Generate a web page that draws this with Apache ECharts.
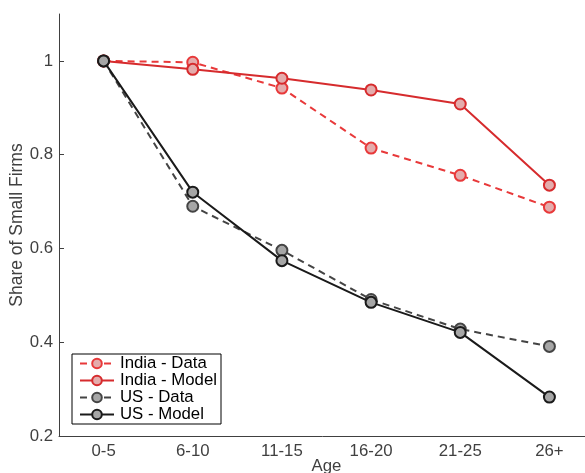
<!DOCTYPE html>
<html>
<head>
<meta charset="utf-8">
<script src="https://cdn.jsdelivr.net/npm/echarts@6/dist/echarts.min.js"></script>
<style>html,body{margin:0;padding:0;background:#fff}#c{width:585px;height:473px}</style>
</head>
<body>
<div id="c"></div>
<script>
var categories = ['0-5', '6-10', '11-15', '16-20', '21-25', '26+'];
var indiaData  = [1.0, 0.997, 0.942, 0.814, 0.756, 0.688];
var indiaModel = [1.0, 0.982, 0.963, 0.938, 0.908, 0.735];
var usData     = [1.0, 0.690, 0.596, 0.491, 0.428, 0.391];
var usModel    = [1.0, 0.720, 0.574, 0.485, 0.421, 0.283];
var yTicks = [0.2, 0.4, 0.6, 0.8, 1.0];

var FONT = 'Liberation Sans';
var chart = echarts.init(document.getElementById('c'), null, {renderer: 'canvas'});

function mk(name, data, color, fill, dashed, z) {
  return {
    name: name, type: 'line', data: data, z: z,
    symbol: 'circle', symbolSize: 11,
    itemStyle: {color: fill, borderColor: color, borderWidth: 2, opacity: 1},
    lineStyle: {color: color, width: 2, type: dashed ? [7, 5] : 'solid'},
    emphasis: {disabled: true},
    animation: false
  };
}

chart.setOption({
  animation: false,
  textStyle: {fontFamily: FONT},
  grid: {left: 59, top: 14, bottom: 37, right: -9, containLabel: false, outerBoundsMode: 'none'},
  legend: {
    orient: 'vertical', left: 72, top: 354,
    borderColor: '#000', borderWidth: 1, backgroundColor: '#fff',
    padding: [1, 4, 1, 7],
    itemWidth: 34, itemHeight: 12, itemGap: 0,
    textStyle: {fontFamily: FONT, fontSize: 16.8, color: '#000', lineHeight: 16.5, padding: [0, 0, 0, 1]},
    data: ['India - Data', 'India - Model', 'US - Data', 'US - Model']
  },
  xAxis: {
    type: 'category', data: categories, boundaryGap: true,
    name: 'Age', nameLocation: 'middle', nameGap: 22, nameMoveOverlap: false,
    nameTextStyle: {fontFamily: FONT, fontSize: 16.8, color: '#404040', verticalAlign: 'top'},
    axisLine: {lineStyle: {color: '#404040', width: 1}},
    axisTick: {inside: true, alignWithLabel: true, length: 5, lineStyle: {color: '#404040'}},
    axisLabel: {fontFamily: FONT, fontSize: 16.8, color: '#404040', margin: 7},
    splitLine: {show: false}
  },
  yAxis: {
    type: 'value', min: 0.2, max: 1.1, interval: 0.2,
    name: 'Share of Small Firms', nameLocation: 'middle', nameGap: 33, nameRotate: 90, nameMoveOverlap: false,
    nameTextStyle: {fontFamily: FONT, fontSize: 17.5, color: '#404040'},
    axisLine: {show: true, lineStyle: {color: '#404040', width: 1}},
    axisTick: {show: true, inside: true, length: 5, lineStyle: {color: '#404040'}},
    axisLabel: {fontFamily: FONT, fontSize: 16.8, color: '#404040', margin: 6, showMaxLabel: false,
      formatter: function (v) { return yTicks.indexOf(Math.round(v * 10) / 10) >= 0 ? String(Math.round(v * 10) / 10) : ''; }},
    splitLine: {show: false}
  },
  series: [
    mk('India - Data', indiaData, '#e8393a', '#e4acac', true, 2),
    mk('India - Model', indiaModel, '#d62b2d', '#e4acac', false, 3),
    mk('US - Data', usData, '#444444', '#a6a6a6', true, 4),
    mk('US - Model', usModel, '#1a1a1a', '#a6a6a6', false, 5)
  ]
});
</script>
</body>
</html>
